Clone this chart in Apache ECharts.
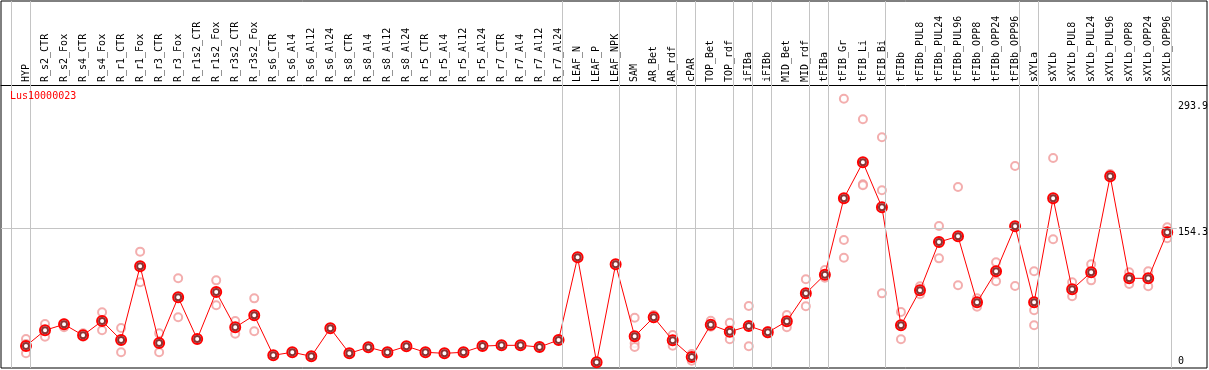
<!DOCTYPE html>
<html>
<head>
<meta charset="utf-8">
<script src="https://cdn.jsdelivr.net/npm/echarts@6/dist/echarts.min.js"></script>
<style>
html,body{margin:0;padding:0;background:#fff;}
#c{width:1209px;height:370px;}
</style>
</head>
<body>
<div id="c"></div>
<script>
var categories = ["HYP","R_s2_CTR","R_s2_Fox","R_s4_CTR","R_s4_Fox","R_r1_CTR","R_r1_Fox","R_r3_CTR","R_r3_Fox","R_r1s2_CTR","R_r1s2_Fox","R_r3s2_CTR","R_r3s2_Fox","R_s6_CTR","R_s6_Al4","R_s6_Al12","R_s6_Al24","R_s8_CTR","R_s8_Al4","R_s8_Al12","R_s8_Al24","R_r5_CTR","R_r5_Al4","R_r5_Al12","R_r5_Al24","R_r7_CTR","R_r7_Al4","R_r7_Al12","R_r7_Al24","LEAF_N","LEAF_P","LEAF_NPK","SAM","AR_Bet","AR_rdf","cPAR","TOP_Bet","TOP_rdf","iFIBa","iFIBb","MID_Bet","MID_rdf","tFIBa","tFIB_Gr","tFIB_Li","tFIB_Bi","tFIBb","tFIBb_PUL8","tFIBb_PUL24","tFIBb_PUL96","tFIBb_OPP8","tFIBb_OPP24","tFIBb_OPP96","sXYLa","sXYLb","sXYLb_PUL8","sXYLb_PUL24","sXYLb_PUL96","sXYLb_OPP8","sXYLb_OPP24","sXYLb_OPP96"];

var means = [27.6,44.5,50.9,39.1,54.5,34.0,113.4,30.8,80.0,35.1,85.7,47.7,
60.6,17.6,20.8,16.5,46.6,19.7,26.2,20.8,27.3,20.8,19.7,20.8,27.5,
28.3,28.3,26.5,34.0,123.1,10.0,115.6,38.0,58.5,33.7,15.7,50.5,
43.0,49.1,42.3,54.2,84.3,104.4,186.7,225.4,177.0,49.9,87.6,139.6,145.7,
74.6,108.0,156.5,74.6,186.7,88.6,107.0,210.4,100.5,100.5,150.0];

var replicates = [
[35.1,29.7,19.8],[51.2,37.6],[52.0,47.7],[41.2,37.6],[63.9,44.5],[47.0,20.8],[129.2,96.2],[41.2,20.8],[100.5,58.5],[35.1],[98.3,71.4],[54.5,40.8],
[78.9,43.4],[17.6],[20.8],[16.5],[46.6],[19.7],[26.2],[20.8],[27.3],[20.8],[19.7],[20.8],[27.5],
[28.3],[28.3],[26.5],[34.0],[123.1],[10.0],[115.6],[58.1,30.5,26.5],[61.0,57.4],[39.4,27.9],[19.0,11.7],[54.8,48.4],
[52.7,34.8],[70.7,27.3],[43.7,41.2],[61.0,47.7],[99.4,70.3],[109.4,101.2],[293.9,141.8,122.7],[271.8,201.7,200.7],[252.4,195.3,84.3],[64.2,34.8],[91.9,83.3],[156.8,122.0],[198.8,93.0],
[78.9,69.9],[117.7,97.3],[221.5,92.2],[108.0,66.0,49.9],[230.1,142.5],[96.2,81.1],[115.6,98.3],[212.8,209.3],[107.0,94.4],[108.0,91.9],[155.4,143.6]];

// index of the last category of each group (-1 = before the first)
var groupEnds = [-1,0,28,31,34,35,37,38,39,41,42,45,52,53,60];

var yTickLabels = ["293.9","154.3","0"];
var refValue = 154.3;
var titleText = "Lus10000023";

var X_MIN = -1.314, X_MAX = 62.09, Y_MIN = 3.88, Y_MAX = 399.2;
var MONO = '"DejaVu Sans Mono", "Liberation Mono", monospace';

var meanData = means.map(function(v,i){return [i,v];});
var repData = [];
replicates.forEach(function(arr,i){arr.forEach(function(v){repData.push([i,v]);});});
var idx = categories.map(function(c,i){return i;});

var vLines = groupEnds.map(function(g){return {xAxis: g + 0.2};});

var chart = echarts.init(document.getElementById('c'), null, {renderer:'canvas'});
chart.setOption({
  animation:false,
  backgroundColor:'#ffffff',
  title:{text:titleText,left:10,top:91,padding:0,textStyle:{color:'#ff0000',fontSize:10,fontWeight:'normal',fontFamily:MONO}},
  grid:{left:1,top:1,right:2,bottom:2,show:true,borderColor:'#000',borderWidth:1,backgroundColor:'transparent',containLabel:false,outerBoundsMode:'none'},
  xAxis:{type:'value',min:X_MIN,max:X_MAX,position:'top',offset:-84,
    axisLine:{show:true,onZero:false,lineStyle:{color:'#000',width:1}},
    axisTick:{show:false},splitLine:{show:false},
    axisLabel:{show:true,customValues:idx,rotate:-90,margin:3,color:'#000',fontSize:10,fontFamily:MONO,
      formatter:function(v){return categories[Math.round(v)]||'';}}},
  yAxis:{type:'value',min:Y_MIN,max:Y_MAX,show:false,splitLine:{show:false}},
  graphic:[
    {type:'text',x:1178,y:106.7,style:{text:yTickLabels[0],font:'10px '+MONO,fill:'#000',verticalAlign:'middle'}},
    {type:'text',x:1178,y:232.3,style:{text:yTickLabels[1],font:'10px '+MONO,fill:'#000',verticalAlign:'middle'}},
    {type:'text',x:1178,y:361.7,style:{text:yTickLabels[2],font:'10px '+MONO,fill:'#000',verticalAlign:'middle'}}
  ],
  series:[
    {type:'scatter',data:repData,symbol:'emptyCircle',symbolSize:8,z:2,
      itemStyle:{color:'#f09a9a',borderColor:'#f09a9a',borderWidth:1.2},
      markLine:{silent:true,symbol:'none',label:{show:false},
        lineStyle:{color:'#c4c4c4',type:'solid',width:1},
        data:vLines.concat([[{coord:[X_MIN,refValue]},{coord:[60.5,refValue]}]])}},
    {type:'line',data:meanData,z:4,symbol:'emptyCircle',symbolSize:10,
      lineStyle:{color:'#ff0000',width:1},
      itemStyle:{color:'#ff0000',borderColor:'#ff0000',borderWidth:1.6}},
    {type:'scatter',data:meanData,z:5,symbol:'emptyCircle',symbolSize:6,
      itemStyle:{color:'#700000',borderColor:'#700000',borderWidth:0.7}}
  ]
});
</script>
</body>
</html>
